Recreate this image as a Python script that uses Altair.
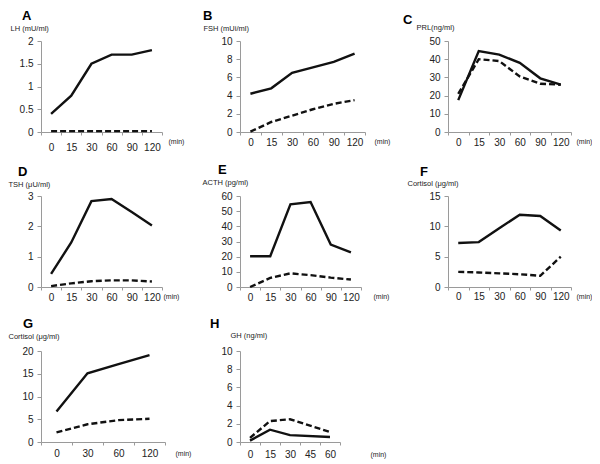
import altair as alt
import pandas as pd

# ---------------- data ----------------
letters = ["A", "B", "C", "D", "E", "F", "G", "H"]
ytitles = ["LH (mU/ml)", "FSH (mUi/ml)", "PRL(ng/ml)", "TSH (\u03bcU/ml)",
           "ACTH (pg/ml)", "Cortisol (\u03bcg/ml)", "Cortisol (\u03bcg/ml)", "GH (ng/ml)"]

t6 = ["0", "15", "30", "60", "90", "120"]
tG = ["0", "30", "60", "120"]
tH = ["0", "15", "30", "45", "60"]

A_solid = [0.4, 0.8, 1.5, 1.7, 1.7, 1.8]
A_dashed = [0.02, 0.02, 0.02, 0.02, 0.02, 0.02]
B_solid = [4.2, 4.8, 6.5, 7.1, 7.7, 8.6]
B_dashed = [0.05, 1.1, 1.8, 2.5, 3.1, 3.5]
C_solid = [17.5, 44.5, 42.5, 38.0, 29.5, 26.0]
C_dashed = [21.0, 40.0, 39.0, 30.5, 26.5, 26.0]
D_solid = [0.43, 1.47, 2.83, 2.9, 2.47, 2.03]
D_dashed = [0.03, 0.12, 0.19, 0.22, 0.22, 0.18]
E_solid = [20.3, 20.3, 54.5, 56.0, 28.0, 22.8]
E_dashed = [0.0, 6.0, 9.0, 7.8, 6.2, 4.9]
F_solid = [7.25, 7.4, 9.7, 11.9, 11.7, 9.3]
F_dashed = [2.5, 2.4, 2.25, 2.1, 1.85, 5.0]
G_solid = [6.7, 15.1, 17.1, 19.1]
G_dashed = [2.1, 3.9, 4.8, 5.1]
H_solid = [0.15, 1.35, 0.75, None, 0.55]
H_dashed = [0.45, 2.3, 2.5, None, 1.1]

ymaxs = [2, 10, 50, 3, 60, 15, 20, 10]
ysteps = [0.5, 2, 10, 1, 10, 5, 5, 2]

# ---------------- layout parameters ----------------
plot_w = [121, 125, 123, 121, 121, 123, 124, 100]
cell_w = [149, 157.5, 140, 149, 157.5, 140, 149, 157.5]
plot_h = 91
ytitle_x = [-31, -37, -32, -33, -38, -41, -33, -10]
ytitle_y = [-13, -13, -14, -12, -14, -12.5, -15, -16]
min_x = [127, 134, 128, 122, 133, 128, 134, 130]
min_y = [9, 9, 9, 9, 9, 9, 11, 12]
lab_pad = [7, 2, 2, 2, 2, 1, 3, 4]
letter_dx = [-19, -37, -45, -23, -22, -28, -18, -30]
letter_off = [1, 1, -4, 1, 1, 1, 1, 0]

FONT = "Liberation Sans"
AX = "#9a9a9a"
TXT = "#222222"
LINE = "#111111"

series = {
    "A": (t6, A_solid, A_dashed), "B": (t6, B_solid, B_dashed),
    "C": (t6, C_solid, C_dashed), "D": (t6, D_solid, D_dashed),
    "E": (t6, E_solid, E_dashed), "F": (t6, F_solid, F_dashed),
    "G": (tG, G_solid, G_dashed), "H": (tH, H_solid, H_dashed),
}


def panel(k):
    L = letters[k]
    cats, sol, das = series[L]
    rows = []
    for i, c in enumerate(cats):
        if sol[i] is not None:
            rows.append({"t": c, "i": i, "v": sol[i], "s": "solid"})
        if das[i] is not None:
            rows.append({"t": c, "i": i, "v": das[i], "s": "dashed"})
    df = pd.DataFrame(rows)
    nt = int(round(ymaxs[k] / ysteps[k]))
    yvals = [round(j * ysteps[k], 3) for j in range(nt + 1)]

    base = alt.Chart(df).encode(
        x=alt.X("t:O", bandPosition=0.5, title="(min)",
                scale=alt.Scale(type="band", domain=cats, range=[0, plot_w[k]],
                                paddingInner=0, paddingOuter=0),
                axis=alt.Axis(tickBand="extent", labelAngle=0, tickSize=3,
                              labelPadding=lab_pad[k], titleAngle=0,
                              titleX=min_x[k], titleY=min_y[k], titleAlign="left",
                              titleBaseline="middle", titleFontSize=7,
                              titleFontWeight="normal")),
        y=alt.Y("v:Q", title=ytitles[k],
                scale=alt.Scale(domain=[0, ymaxs[k]], nice=False, zero=True),
                axis=alt.Axis(values=yvals, format=".1~f", tickSize=4, labelPadding=4,
                              titleAngle=0, titleX=ytitle_x[k], titleY=ytitle_y[k],
                              titleAlign="left", titleBaseline="middle",
                              titleFontSize=7.5, titleFontWeight="normal")),
        order=alt.Order("i:Q"),
    )
    solid = base.transform_filter(alt.datum.s == "solid").mark_line(
        color=LINE, strokeWidth=2.4)
    dashed = base.transform_filter(alt.datum.s == "dashed").mark_line(
        color=LINE, strokeWidth=2.4, strokeDash=[6, 3])
    return alt.layer(solid, dashed).properties(
        width=cell_w[k], height=plot_h,
        title=alt.TitleParams(text=L, anchor="start", frame="group", dx=letter_dx[k],
                              offset=letter_off[k], fontSize=13, fontWeight="bold",
                              font=FONT, color="#000000"))


chart = alt.concat(*[panel(k) for k in range(8)], columns=3,
                   spacing={"row": 64, "column": 50},
                   bounds="flush", align="each").properties(
    padding={"left": 0, "top": 2, "right": 0, "bottom": 0}
).configure_view(stroke=None).configure_axis(
    grid=False, domainColor=AX, tickColor=AX, labelColor=TXT, titleColor=TXT,
    labelFont=FONT, titleFont=FONT, labelFontSize=10, domainWidth=1, tickWidth=1
)

chart.save("out.html", embed_options={"renderer": "svg", "actions": False})
